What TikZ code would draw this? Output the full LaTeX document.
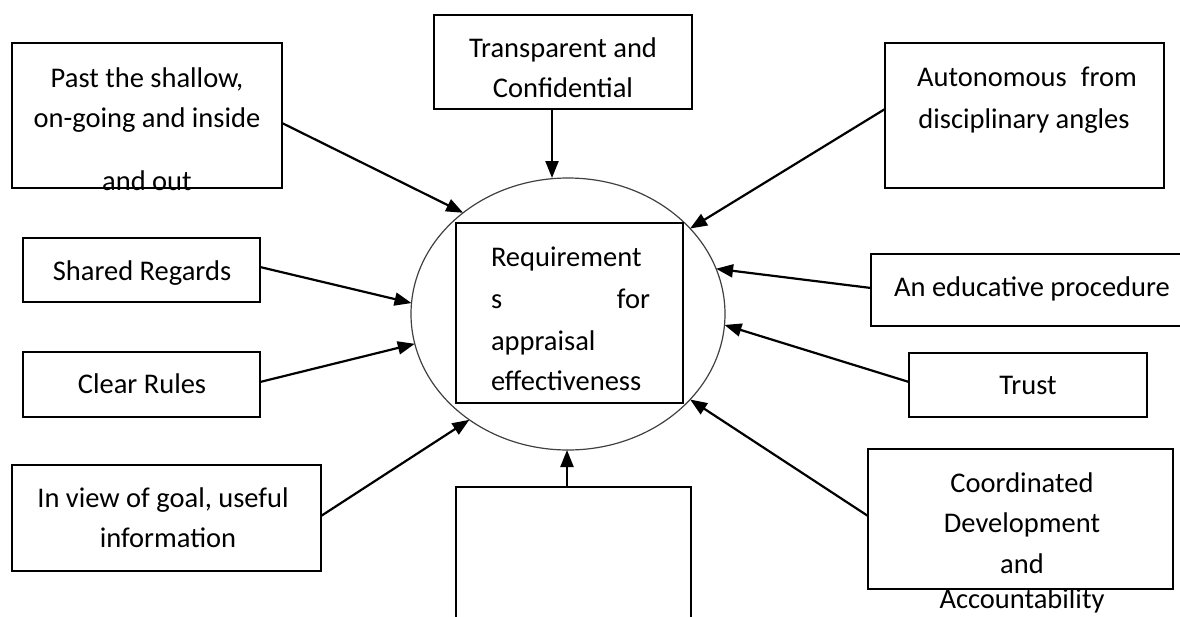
\documentclass[tikz,border=0pt]{standalone}
\usepackage{fontspec}
\setmainfont{Carlito}
\usetikzlibrary{arrows.meta,calc,shapes.geometric}
\begin{document}
\begin{tikzpicture}[x=1pt,y=-1pt,
  boxst/.style={draw, line width=1.6pt, inner sep=0pt, outer sep=0pt},
  txt/.style={inner sep=0pt, outer sep=0pt, anchor=base, font=\fontsize{28.5}{41}\selectfont},
  arr/.style={line width=2.2pt, -{Triangle[length=17pt,width=13pt]}}]
\useasboundingbox (0,0) rectangle (1180,616);
% centre
\node[draw, ellipse, line width=1.2pt, draw=black!75, inner sep=0pt, outer sep=0pt, minimum width=314pt, minimum height=272pt] (c) at (568,314) {};
\node[boxst, minimum width=227pt, minimum height=180pt] (in) at (569.5,313) {};
\node[txt, anchor=base west] (t1) at (491,266) {Requirement};
\node[txt, anchor=base west] (t2) at (491,308) {s};
\node[txt, anchor=base east] (t3) at (650,308) {for};
\node[txt, anchor=base west] (t4) at (491,350) {appraisal};
\node[txt, anchor=base west] (t5) at (491,390) {effectiveness};
% boxes
\node[boxst, minimum width=270pt, minimum height=145pt] (b1) at (147,115.5) {};
\node[txt] (b1a) at (147,87) {Past the shallow,};
\node[txt] (b1b) at (147,127) {on-going and inside};
\node[txt] (b1c) at (147,190) {and out};
\node[boxst, minimum width=258pt, minimum height=94pt] (b2) at (563,62) {};
\node[txt] (b2a) at (563,57) {Transparent and};
\node[txt] (b2b) at (563,97) {Confidential};
\node[boxst, minimum width=279pt, minimum height=145pt] (b3) at (1024.5,115.5) {};
\node[txt] (b3a) at (1027,86) {Autonomous\hspace{0.5em}from};
\node[txt] (b3b) at (1024,128) {disciplinary angles};
\node[boxst, minimum width=237pt, minimum height=64pt] (b4) at (141.5,270) {};
\node[txt] (b4a) at (142,280) {Shared Regards};
\node[boxst, minimum width=237pt, minimum height=65pt] (b5) at (141.5,384.5) {};
\node[txt] (b5a) at (142,393) {Clear Rules};
\node[boxst, minimum width=309pt, minimum height=106pt] (b6) at (166.5,518) {};
\node[txt] (b6a) at (163,507) {In view of goal, useful};
\node[txt] (b6b) at (168,547) {information};
\node[boxst, minimum width=235pt, minimum height=143pt] (b7) at (573.5,558.5) {};
\node[boxst, minimum width=312pt, minimum height=72pt] (b8) at (1027,290) {};
\node[txt] (b8a) at (1032,296) {An educative procedure};
\node[boxst, minimum width=238pt, minimum height=64pt] (b9) at (1028,385) {};
\node[txt] (b9a) at (1028,394) {Trust};
\node[boxst, minimum width=305pt, minimum height=140pt] (b10) at (1020.5,519) {};
\node[txt] (b10a) at (1022,492) {Coordinated};
\node[txt] (b10b) at (1022,532) {Development};
\node[txt] (b10c) at (1022,573) {and};
\node[txt] (b10d) at (1022,608) {Accountability};
% connectors
\coordinate (s2) at ($(b2.south)+(-11,0)$);
\coordinate (s7) at ($(b7.north)+(-6.5,0)$);
\draw[arr] ($(b1.east)+(0,7.5)$) -- (c.136.6);
\draw[arr] (s2) -- (s2 |- c.north);
\draw[arr] ($(b3.west)+(0,-6.5)$) -- (c.35.5);
\draw[arr] ($(b4.east)+(0,-3)$) -- (c.176);
\draw[arr] ($(b5.east)+(0,-2.5)$) -- (c.191.5);
\draw[arr] ($(b6.east)+(0,-2)$) -- (c.227);
\draw[arr] (s7) -- (s7 |- c.south);
\draw[arr] ($(b8.west)+(0,-2)$) -- (c.17.4);
\draw[arr] ($(b9.west)+(0,-3)$) -- (c.-4.7);
\draw[arr] ($(b10.west)+(0,-3)$) -- (c.-35.6);
\end{tikzpicture}
\end{document}
